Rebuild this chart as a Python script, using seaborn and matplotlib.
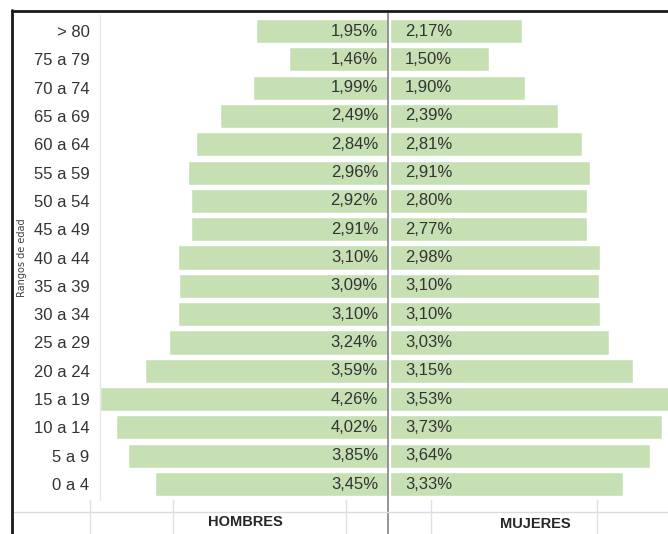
import matplotlib
matplotlib.use("Agg")
import matplotlib.pyplot as plt
from matplotlib.lines import Line2D
import seaborn as sns
import pandas as pd

rangos = ["> 80", "75 a 79", "70 a 74", "65 a 69", "60 a 64", "55 a 59", "50 a 54",
          "45 a 49", "40 a 44", "35 a 39", "30 a 34", "25 a 29", "20 a 24", "15 a 19",
          "10 a 14", "5 a 9", "0 a 4"]
hombres = [1.95, 1.46, 1.99, 2.49, 2.84, 2.96, 2.92, 2.91, 3.10, 3.09, 3.10, 3.24,
           3.59, 4.26, 4.02, 3.85, 3.45]
mujeres = [2.17, 1.50, 1.90, 2.39, 2.81, 2.91, 2.80, 2.77, 2.98, 3.10, 3.10, 3.03,
           3.15, 3.53, 3.73, 3.64, 3.33]
# In the reference the right-hand bars are drawn with the same lengths as the
# male series (only the labels carry the female values)
mujeres_barras = hombres
etiquetas_h = ["1,95%", "1,46%", "1,99%", "2,49%", "2,84%", "2,96%", "2,92%", "2,91%",
               "3,10%", "3,09%", "3,10%", "3,24%", "3,59%", "4,26%", "4,02%", "3,85%", "3,45%"]
etiquetas_m = ["2,17%", "1,50%", "1,90%", "2,39%", "2,81%", "2,91%", "2,80%", "2,77%",
               "2,98%", "3,10%", "3,10%", "3,03%", "3,15%", "3,53%", "3,73%", "3,64%", "3,33%"]

sns.set_theme(style="white")
plt.rcParams['font.family'] = ['Liberation Sans', 'DejaVu Sans']

W, H = 668, 534
fig = plt.figure(figsize=(W / 100, H / 100), dpi=100)

def fx(px):
    return px / W

def fy(py):
    return 1 - py / H

top_px, bot_px = 16.85, 498.2
scale = 67.6  # px per percent

# left (men) axes: from x=100 to center 388
axl = fig.add_axes([fx(100), fy(bot_px), fx(388) - fx(100), fy(top_px) - fy(bot_px)])
# right (women) axes: from x=390 to edge
axr = fig.add_axes([fx(390), fy(bot_px), fx(668) - fx(390), fy(top_px) - fy(bot_px)])

green = "#c6e0b4"
df_h = pd.DataFrame({"rango": rangos, "valor": [-v for v in hombres]})
df_m = pd.DataFrame({"rango": rangos, "valor": mujeres_barras})
sns.barplot(data=df_h, x="valor", y="rango", orient="h", color=green,
            width=0.85, ax=axl, saturation=1, order=rangos)
sns.barplot(data=df_m, x="valor", y="rango", orient="h", color=green,
            width=0.85, ax=axr, saturation=1, order=rangos)

axl.set_xlim(-(388 - 100) / scale, 0)
axr.set_xlim(0, (668 - 390) / scale)
for ax in (axl, axr):
    ax.set_ylim(len(rangos) - 0.5, -0.5)
    for s in ax.spines.values():
        s.set_visible(False)
    ax.set_xlabel("")
    ax.set_ylabel("")
    ax.set_xticks([])
    ax.patch.set_alpha(0)
axr.set_yticks([])
axl.tick_params(axis="y", length=0, pad=7.5, labelsize=12, labelcolor="#333333")

for i in range(len(rangos)):
    axl.text(-10 / scale, i, etiquetas_h[i], ha="right", va="center", fontsize=12, color="#333333")
    axr.text(15 / scale, i, etiquetas_m[i], ha="left", va="center", fontsize=12, color="#333333")

# light separator between labels and plot
fig.add_artist(Line2D([fx(100), fx(100)], [fy(15), fy(500)], color="#e8e8e8", lw=1))
# center line
fig.add_artist(Line2D([fx(388), fx(388)], [fy(13), fy(534)], color="#8c8c8c", lw=1.3))
# bottom table lines
fig.add_artist(Line2D([fx(12), fx(668)], [fy(512), fy(512)], color="#dcdcdc", lw=1))
for xp in [90, 173, 346, 431, 597]:
    fig.add_artist(Line2D([fx(xp), fx(xp)], [fy(500), fy(534)], color="#e0e0e0", lw=1))

fig.text(fx(245), fy(522), "HOMBRES", ha="center", va="center", fontsize=10.5,
         fontweight="bold", color="#262626")
fig.text(fx(535), fy(524), "MUJERES", ha="center", va="center", fontsize=10.5,
         fontweight="bold", color="#262626")
fig.text(fx(22), fy(258), "Rangos de edad", ha="center", va="center", rotation=90,
         fontsize=7, color="#404040", family=["DejaVu Sans"])

# outer frame
fig.add_artist(Line2D([fx(12), fx(668)], [fy(11), fy(11)], color="#1a1a1a", lw=2))
fig.add_artist(Line2D([fx(12), fx(12)], [fy(10), fy(534)], color="#1a1a1a", lw=2))

fig.savefig("out.png", dpi=100)
